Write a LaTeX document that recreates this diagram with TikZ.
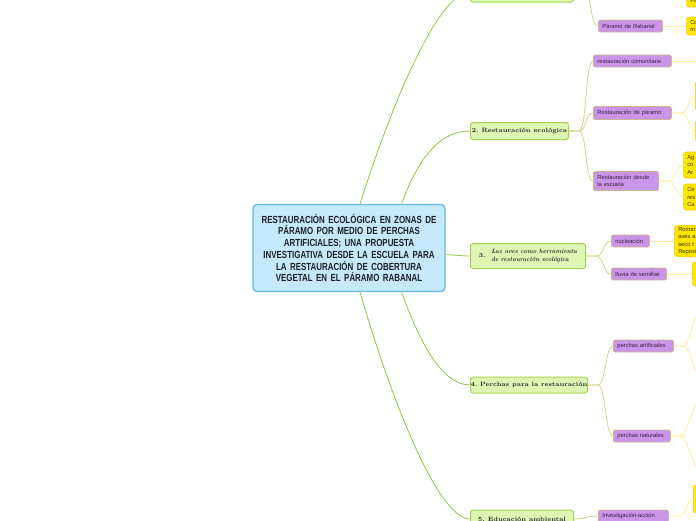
\documentclass[tikz,border=0pt]{standalone}
\usepackage{fontspec}
\usetikzlibrary{positioning}
\newfontfamily\rootfont[FakeStretch=0.77]{Liberation Sans}
\newfontfamily\mapfont{Liberation Sans}
\definecolor{rootfill}{RGB}{197,233,250}
\definecolor{rootline}{RGB}{92,188,234}
\definecolor{rootink}{RGB}{30,30,40}
\definecolor{topicfill}{RGB}{222,246,180}
\definecolor{topicline}{RGB}{166,212,82}
\definecolor{subfill}{RGB}{202,148,232}
\definecolor{subline}{RGB}{204,182,142}
\definecolor{subink}{RGB}{55,35,65}
\definecolor{leaffill}{RGB}{255,230,0}
\definecolor{leafline}{RGB}{245,210,0}
\definecolor{leafink}{RGB}{60,50,10}
\definecolor{linkgreen}{RGB}{145,200,70}
\definecolor{linkolive}{RGB}{216,210,142}
\definecolor{linkyellow}{RGB}{255,240,160}

\begin{document}
\begin{tikzpicture}[x=1pt,y=-1pt,
  every node/.style={inner sep=0pt},
  rootbox/.style={draw=rootline,fill=rootfill,line width=1.3pt,rounded corners=4pt,
    minimum width=192pt,minimum height=87pt,text width=186pt,align=center,
    font=\rootfont\bfseries\fontsize{10.3}{11.7}\selectfont,text=rootink},
  topicbox/.style={draw=topicline,fill=topicfill,line width=1pt,rounded corners=2.5pt,
    anchor=west,font=\bfseries\fontsize{6.2}{8.2}\selectfont,text=black!85},
  subbox/.style={draw=subline,fill=subfill,line width=0.8pt,rounded corners=2pt,
    anchor=west,inner xsep=4pt,align=left,
    font=\mapfont\fontsize{5.8}{7.4}\selectfont,text=subink},
  leafbox/.style={draw=leafline,fill=leaffill,line width=0.6pt,rounded corners=3pt,
    anchor=west,inner xsep=4pt,text width=60pt,align=left,
    font=\mapfont\fontsize{5.8}{7.4}\selectfont,text=leafink},
  mainlink/.style={draw=linkgreen,line width=0.8pt},
  sublink/.style={draw=linkolive,line width=0.8pt},
  leaflink/.style={draw=linkyellow,line width=0.9pt}]

  \useasboundingbox (0,0) rectangle (696,520);
  \clip (0,0) rectangle (696,520);
  \fill[white] (0,0) rectangle (696,520);

  \node[rootbox] (root) at (349,248) {RESTAURACIÓN ECOLÓGICA EN ZONAS DE\\PÁRAMO POR MEDIO DE PERCHAS\\ARTIFICIALES; UNA PROPUESTA\\INVESTIGATIVA DESDE LA ESCUELA PARA\\LA RESTAURACIÓN DE COBERTURA\\VEGETAL EN EL PÁRAMO RABANAL};

  \node[topicbox,minimum width=103pt,minimum height=20pt] (n1) at (470,-8) {};
  \node[topicbox,minimum width=98pt,minimum height=17pt] (n2) at (470,131) {2.~Restauración ecológica};
  \node[topicbox,minimum width=115pt,minimum height=25pt] (n3) at (470,256) {3.~~\begin{tabular}{@{}l@{}}\textit{Las aves como herramienta}\\\textit{de restauración ecológica}\end{tabular}};
  \node[topicbox,minimum width=117pt,minimum height=16pt] (n4) at (470,385) {4.~Perchas para la restauración};
  \node[topicbox,minimum width=103pt,minimum height=18pt] (n5) at (470,519) {5.~Educación ambiental};

  \node[subbox,text width=56pt,minimum height=12pt] (p1) at (598,26) {Páramo de Rabanal};
  \node[subbox,text width=70pt,minimum height=12pt] (p2a) at (593,61) {restauración comunitaria};
  \node[subbox,text width=70pt,minimum height=13pt] (p2b) at (593,113) {Restauración de páramo};
  \node[subbox,text width=57pt,minimum height=19pt] (p2c) at (593,181) {Restauración desde\\la escuela};
  \node[subbox,text width=30pt,minimum height=12pt] (p3a) at (611,241) {nucleación};
  \node[subbox,text width=47pt,minimum height=12pt] (p3b) at (611,274) {lluvia de semillas};
  \node[subbox,text width=52pt,minimum height=12pt] (p4a) at (613,346) {perchas artificiales};
  \node[subbox,text width=49pt,minimum height=12pt] (p4b) at (613,436) {perchas naturales};
  \node[subbox,text width=62pt,minimum height=12pt] (p5) at (598,516) {Investigación-acción};

  \node[leafbox,minimum height=12pt] (y0) at (686,1) {Pa};
  \node[leafbox,minimum height=18pt] (y1) at (686,26) {Co\\m};
  \node[leafbox,minimum height=30pt] (y2a) at (695,96) {};
  \node[leafbox,minimum height=22pt] (y2b) at (695,131) {};
  \node[leafbox,minimum height=26pt] (y2c) at (683,165) {Ag\\co\\Ar};
  \node[leafbox,minimum height=26pt] (y2d) at (683,197) {Ce\\res\\Ca};
  \node[leafbox,minimum height=31pt] (y3a) at (674,241) {Romer\\aves a\\seco t\\Reposi};
  \node[leafbox,minimum height=24pt] (y3b) at (692,274) {};
  \node[leafbox,minimum height=28pt] (y5) at (693,499) {};

  \coordinate (e2a) at (700,61);
  \coordinate (e4a) at (700,312);
  \coordinate (e4b) at (700,374);
  \coordinate (e4c) at (700,400);
  \coordinate (e4d) at (700,470);

  \draw[mainlink] (root.76) .. controls +(35,-110) and +(-30,0) .. (n1.west);
  \draw[mainlink] (root.40) .. controls +(18,-50) and +(-28,0) .. (n2.west);
  \draw[mainlink] (root.-4) .. controls +(10,0) and +(-10,0) .. (n3.west);
  \draw[mainlink] (root.-40) .. controls +(18,50) and +(-28,0) .. (n4.west);
  \draw[mainlink] (root.-76) .. controls +(35,120) and +(-30,0) .. (n5.west);

  \draw[sublink] (n1.east) -- ++(10,0) .. controls +(8,0) and +(-8,0) .. (p1.west);
  \foreach \c in {p2a,p2b,p2c}
    \draw[sublink] (n2.east) -- ++(10,0) .. controls +(8,0) and +(-8,0) .. (\c.west);
  \foreach \c in {p3a,p3b}
    \draw[sublink] (n3.east) -- ++(10,0) .. controls +(8,0) and +(-8,0) .. (\c.west);
  \foreach \c in {p4a,p4b}
    \draw[sublink] (n4.east) -- ++(10,0) .. controls +(8,0) and +(-8,0) .. (\c.west);
  \draw[sublink] (n5.east) .. controls +(10,0) and +(-10,0) .. (p5.west);

  \draw[leaflink] (p1.east) -- (y1.west);
  \draw[leaflink] (p2a.east) -- (e2a);
  \foreach \c in {y2a,y2b}
    \draw[leaflink] (p2b.east) -- ++(10,0) .. controls +(6,0) and +(-6,0) .. (\c.west);
  \foreach \c in {y2c,y2d}
    \draw[leaflink] (p2c.east) -- ++(10,0) .. controls +(6,0) and +(-6,0) .. (\c.west);
  \draw[leaflink] (p3a.east) -- (y3a.west);
  \draw[leaflink] (p3b.east) -- (y3b.west);
  \foreach \c in {e4a,e4b}
    \draw[leaflink] (p4a.east) -- ++(10,0) .. controls +(6,0) and +(-6,0) .. (\c);
  \foreach \c in {e4c,e4d}
    \draw[leaflink] (p4b.east) -- ++(10,0) .. controls +(6,0) and +(-6,0) .. (\c);
  \draw[leaflink] (p5.east) -- ++(10,0) .. controls +(8,0) and +(-6,0) .. (y5.west);
\end{tikzpicture}
\end{document}
